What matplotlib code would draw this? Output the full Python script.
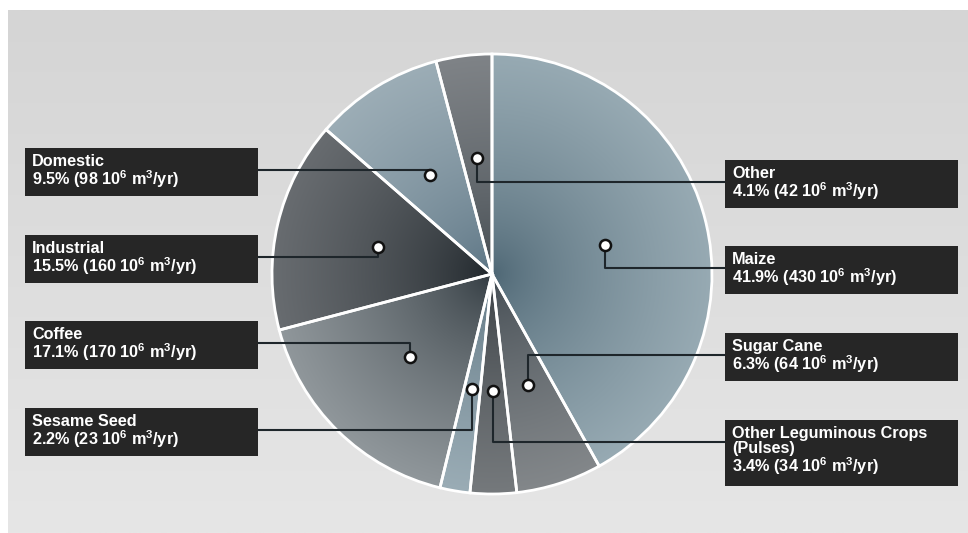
import numpy as np
import matplotlib
matplotlib.use("Agg")
import matplotlib.pyplot as plt
from matplotlib.colors import to_rgb

plt.rcParams['mathtext.fontset'] = 'custom'
plt.rcParams['mathtext.rm'] = 'Liberation Sans:bold'
plt.rcParams['mathtext.it'] = 'Liberation Sans:bold'
plt.rcParams['mathtext.bf'] = 'Liberation Sans:bold'
plt.rcParams['mathtext.default'] = 'rm'

# data, clockwise from 12 o'clock
labels = ['Maize', 'Sugar Cane', 'Other Leguminous Crops\n(Pulses)', 'Sesame Seed',
          'Coffee', 'Industrial', 'Domestic', 'Other']
shares = [41.9, 6.3, 3.4, 2.2, 17.1, 15.5, 9.5, 4.1]
volumes = [430, 64, 34, 23, 170, 160, 98, 42]

# (centre colour, rim colour) per slice
center_cols = ['#4a6371', '#3d464d', '#33393e', '#5a717e', '#2c353b', '#1b2227', '#577080', '#3e464c']
rim_cols = ['#97aab3', '#83878a', '#75797c', '#9aacb5', '#90979b', '#686c70', '#9cadb6', '#7f8387']

# label box layout: side and top (pixels from top of image)
box_side = ['R', 'R', 'R', 'L', 'L', 'L', 'L', 'R']
box_top = [246, 333, 420, 408, 321, 235, 148, 160]

W, H = 968, 533
cx, cy, R = 492, H - 274, 220

fig = plt.figure(figsize=(W / 100, H / 100), dpi=100)
ax = fig.add_axes([0, 0, 1, 1])

# grey panel with vertical gradient
g = np.linspace(0, 1, 256)[:, None]
top, bot = np.array(to_rgb('#d5d5d5')), np.array(to_rgb('#e6e6e6'))
bg = top[None, None, :] * (1 - g[..., None]) + bot[None, None, :] * g[..., None]
bg = np.repeat(bg, 2, axis=1)
ax.imshow(bg, extent=(8, W, 0, H - 10), aspect='auto', zorder=-2, interpolation='bilinear')

wedges, _ = ax.pie(shares, startangle=90, counterclock=False, center=(cx, cy), radius=R,
                   wedgeprops=dict(edgecolor='white', linewidth=2.0, facecolor='none'),
                   frame=True)
ax.set_xlim(0, W)
ax.set_ylim(0, H)
ax.set_aspect('auto')
ax.axis('off')

# radial gradient fill for each wedge
n = 300
xs = np.linspace(-1, 1, n)
XX, YY = np.meshgrid(xs, xs)
rr = np.clip(np.hypot(XX, YY), 0, 1)
t = rr ** 0.65
for w, c0, c1 in zip(wedges, center_cols, rim_cols):
    c0 = np.array(to_rgb(c0))
    c1 = np.array(to_rgb(c1))
    img = c0[None, None, :] * (1 - t[..., None]) + c1[None, None, :] * t[..., None]
    im = ax.imshow(img, extent=(cx - R, cx + R, cy - R, cy + R), origin='lower',
                   zorder=0, interpolation='bilinear', aspect='auto')
    im.set_clip_path(w)

# markers, leader lines and label boxes
cum = np.cumsum([0] + shares[:-1])
line_col = '#1e262b'
for i in range(len(labels)):
    mid = np.deg2rad(90 - (cum[i] + shares[i] / 2) * 3.6)
    mx = cx + 0.53 * R * np.cos(mid)
    my = cy + 0.53 * R * np.sin(mid)
    nlines = labels[i].count('\n') + 2
    bh = 48 if nlines == 2 else 66
    ytop = H - box_top[i]
    ly = ytop - 22
    if box_side[i] == 'L':
        bx0, bx1 = 25, 258
        ax.plot([bx1, mx, mx], [ly, ly, my], color=line_col, lw=1.5, zorder=3)
    else:
        bx0, bx1 = 725, 958
        ax.plot([mx, mx, bx0], [my, ly, ly], color=line_col, lw=1.5, zorder=3)
    ax.add_patch(plt.Rectangle((bx0, ytop - bh), bx1 - bx0, bh, facecolor='#262626',
                               edgecolor='none', zorder=4))
    txt = f"{labels[i]}\n{shares[i]}% ({volumes[i]} 10$^{{6}}$ m$^{{3}}$/yr)"
    ax.text(bx0 + 7, ytop - 6, txt, color='white', fontsize=11.7, fontweight='bold',
            family=['Liberation Sans', 'DejaVu Sans'], va='top', ha='left',
            linespacing=0.98, zorder=5)
    ax.plot(mx, my, 'o', ms=8, mfc='white', mec='#111111', mew=1.8, zorder=6)

fig.savefig('out.png', dpi=100, facecolor='white')
